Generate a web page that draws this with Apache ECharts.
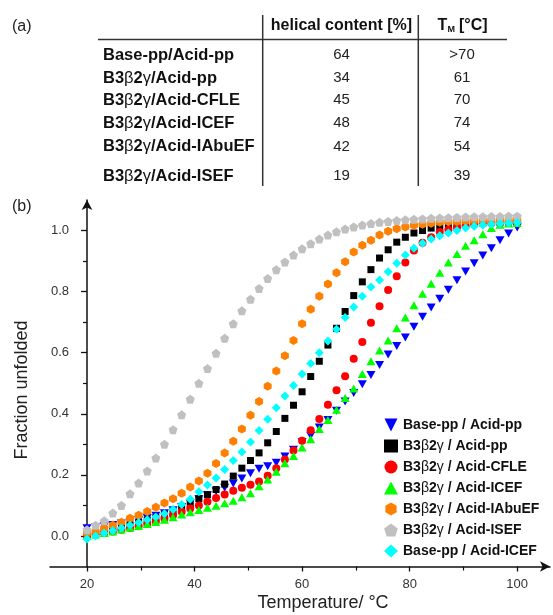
<!DOCTYPE html>
<html>
<head>
<meta charset="utf-8">
<script src="https://cdn.jsdelivr.net/npm/echarts@6/dist/echarts.min.js"></script>
<style>
html,body{margin:0;padding:0;background:#fff;}
#chart{width:553px;height:615px;}
</style>
</head>
<body>
<div id="chart"></div>
<script>
// ---------- (a) table data ----------
var tableRows = ['Base-pp/Acid-pp', 'B3β2γ/Acid-pp', 'B3β2γ/Acid-CFLE', 'B3β2γ/Acid-ICEF', 'B3β2γ/Acid-IAbuEF', 'B3β2γ/Acid-ISEF'];
var helicalContent = ['64', '34', '45', '48', '42', '19'];
var meltingTemps = ['>70', '61', '70', '74', '54', '39'];

// ---------- (b) chart data ----------
var seriesNames = ['Base-pp / Acid-pp', 'B3β2γ / Acid-pp', 'B3β2γ / Acid-CFLE', 'B3β2γ / Acid-ICEF', 'B3β2γ / Acid-IAbuEF', 'B3β2γ / Acid-ISEF', 'Base-pp / Acid-ICEF'];
var temperatures = [20, 21.6, 23.2, 24.8, 26.4, 28, 29.6, 31.2, 32.8, 34.4, 36, 37.6, 39.2, 40.8, 42.4, 44, 45.6, 47.2, 48.8, 50.4, 52, 53.6, 55.2, 56.8, 58.4, 60, 61.6, 63.2, 64.8, 66.4, 68, 69.6, 71.2, 72.8, 74.4, 76, 77.6, 79.2, 80.8, 82.4, 84, 85.6, 87.2, 88.8, 90.4, 92, 93.6, 95.2, 96.8, 98.4, 100];

var basePpAcidPp = [0.025, 0.028, 0.032, 0.036, 0.041, 0.046, 0.052, 0.059, 0.066, 0.074, 0.084, 0.095, 0.107, 0.12, 0.133, 0.146, 0.158, 0.172, 0.188, 0.205, 0.22, 0.228, 0.24, 0.26, 0.282, 0.308, 0.328, 0.355, 0.38, 0.41, 0.44, 0.468, 0.497, 0.527, 0.56, 0.594, 0.622, 0.65, 0.685, 0.718, 0.748, 0.777, 0.806, 0.837, 0.866, 0.893, 0.918, 0.942, 0.968, 0.99, 1.01];
var b3AcidPp = [0.0, 0.008, 0.015, 0.022, 0.029, 0.036, 0.044, 0.052, 0.06, 0.07, 0.08, 0.092, 0.105, 0.122, 0.135, 0.152, 0.17, 0.196, 0.222, 0.247, 0.272, 0.305, 0.342, 0.385, 0.428, 0.472, 0.522, 0.572, 0.625, 0.68, 0.735, 0.787, 0.832, 0.872, 0.91, 0.937, 0.962, 0.978, 0.992, 1.0, 1.008, 1.013, 1.017, 1.02, 1.022, 1.024, 1.025, 1.026, 1.027, 1.028, 1.028];
var b3AcidCFLE = [0.0, 0.005, 0.01, 0.015, 0.02, 0.026, 0.032, 0.039, 0.047, 0.057, 0.068, 0.079, 0.09, 0.1, 0.112, 0.124, 0.136, 0.148, 0.158, 0.168, 0.178, 0.197, 0.222, 0.25, 0.28, 0.312, 0.346, 0.383, 0.43, 0.477, 0.523, 0.58, 0.635, 0.698, 0.752, 0.805, 0.85, 0.895, 0.935, 0.96, 0.978, 0.995, 1.003, 1.01, 1.015, 1.02, 1.023, 1.025, 1.026, 1.027, 1.028];
var b3AcidICEF = [0.0, 0.005, 0.01, 0.015, 0.021, 0.027, 0.033, 0.039, 0.046, 0.053, 0.061, 0.07, 0.078, 0.085, 0.092, 0.099, 0.107, 0.115, 0.127, 0.14, 0.163, 0.185, 0.21, 0.238, 0.262, 0.29, 0.317, 0.35, 0.38, 0.413, 0.452, 0.483, 0.53, 0.572, 0.607, 0.64, 0.68, 0.715, 0.755, 0.793, 0.826, 0.862, 0.895, 0.923, 0.95, 0.968, 0.988, 1.008, 1.019, 1.023, 1.025];
var b3AcidIAbuEF = [0.01, 0.015, 0.025, 0.035, 0.045, 0.058, 0.068, 0.08, 0.094, 0.108, 0.122, 0.14, 0.16, 0.18, 0.205, 0.237, 0.272, 0.31, 0.35, 0.395, 0.44, 0.49, 0.54, 0.59, 0.64, 0.695, 0.742, 0.785, 0.825, 0.862, 0.898, 0.93, 0.952, 0.968, 0.985, 0.998, 1.006, 1.012, 1.017, 1.021, 1.024, 1.027, 1.029, 1.03, 1.031, 1.032, 1.033, 1.034, 1.034, 1.035, 1.035];
var b3AcidISEF = [0.02, 0.035, 0.05, 0.075, 0.1, 0.138, 0.173, 0.213, 0.255, 0.3, 0.348, 0.397, 0.448, 0.5, 0.548, 0.598, 0.647, 0.695, 0.737, 0.775, 0.81, 0.843, 0.872, 0.897, 0.92, 0.94, 0.957, 0.972, 0.985, 0.996, 1.005, 1.012, 1.018, 1.023, 1.027, 1.03, 1.033, 1.035, 1.037, 1.038, 1.04, 1.041, 1.042, 1.043, 1.044, 1.045, 1.045, 1.046, 1.046, 1.047, 1.047];
var basePpAcidICEF = [-0.01, 0.0, 0.01, 0.018, 0.026, 0.035, 0.044, 0.053, 0.062, 0.073, 0.087, 0.103, 0.12, 0.145, 0.167, 0.19, 0.218, 0.247, 0.275, 0.308, 0.345, 0.382, 0.42, 0.458, 0.493, 0.53, 0.565, 0.6, 0.638, 0.677, 0.715, 0.75, 0.785, 0.815, 0.838, 0.865, 0.893, 0.92, 0.942, 0.958, 0.972, 0.983, 0.992, 1.0, 1.008, 1.014, 1.018, 1.021, 1.023, 1.025, 1.026];

var yTickLabels = [0, 0.2, 0.4, 0.6, 0.8, 1.0];
var yMinorTicks = [0.1, 0.3, 0.5, 0.7, 0.9];
var xTickLabels = [20, 40, 60, 80, 100];
var xMinorTicks = [30, 50, 70, 90];

// ---------- styling ----------
var FONT = '"Liberation Sans", Arial, sans-serif';
var seriesValues = [basePpAcidPp, b3AcidPp, b3AcidCFLE, b3AcidICEF, b3AcidIAbuEF, b3AcidISEF, basePpAcidICEF];
var colors = ['#0000ff', '#000000', '#ff0000', '#00ff00', '#ff8000', '#c0c0c0', '#00ffff'];
var hexagon = 'path://M0,-1L0.866,-0.5L0.866,0.5L0,1L-0.866,0.5L-0.866,-0.5Z';
var pentagon = 'path://M0,-1L0.951,-0.309L0.588,0.809L-0.588,0.809L-0.951,-0.309Z';
var downTriangle = 'path://M-1,-1L1,-1L0,1Z';
var symbols = [downTriangle, 'rect', 'circle', 'triangle', hexagon, pentagon, 'diamond'];
var legendIcons = [downTriangle, 'rect', 'circle', 'triangle', hexagon, pentagon, 'diamond'];
var sizes = [[9, 8], 7, 8, [9, 8], [8, 9], 9, 9];

function richify(s, nKey, gKey) {
  var out = '', buf = '';
  for (var i = 0; i < s.length; i++) {
    var ch = s[i];
    if (ch === 'β' || ch === 'γ') {
      if (buf) { out += '{' + nKey + '|' + buf + '}'; buf = ''; }
      out += '{' + gKey + '|' + ch + '}';
    } else buf += ch;
  }
  if (buf) out += '{' + nKey + '|' + buf + '}';
  return out;
}

var series = seriesNames.map(function (name, k) {
  return {
    name: name,
    type: 'scatter',
    xAxisIndex: 0,
    yAxisIndex: 0,
    symbol: symbols[k],
    symbolSize: sizes[k],
    itemStyle: { color: colors[k], opacity: 1 },
    emphasis: { disabled: true },
    data: temperatures.map(function (t, i) { return [t, seriesValues[k][i]]; })
  };
});

// ---------- table graphics ----------
var tableGraphics = [];
var rowY = [55, 78, 100, 123, 146.5, 176];
tableGraphics.push({ type: 'text', x: 12, y: 27, style: { text: '(a)', font: '16px ' + FONT, fill: '#222', verticalAlign: 'middle' } });
tableGraphics.push({ type: 'text', x: 12, y: 207, style: { text: '(b)', font: '16px ' + FONT, fill: '#222', verticalAlign: 'middle' } });
tableGraphics.push({ type: 'line', shape: { x1: 262.7, y1: 15, x2: 262.7, y2: 186 }, style: { stroke: '#333', lineWidth: 1.5 } });
tableGraphics.push({ type: 'line', shape: { x1: 418.3, y1: 15, x2: 418.3, y2: 186 }, style: { stroke: '#333', lineWidth: 1.5 } });
tableGraphics.push({ type: 'line', shape: { x1: 98, y1: 39.5, x2: 507, y2: 39.5 }, style: { stroke: '#333', lineWidth: 1.5 } });
tableGraphics.push({ type: 'text', x: 341.5, y: 26, style: { text: 'helical content [%]', font: 'bold 16px ' + FONT, fill: '#111', align: 'center', verticalAlign: 'middle' } });
tableGraphics.push({ type: 'text', x: 437.5, y: 26, style: { text: 'T', font: 'bold 16px ' + FONT, fill: '#111', align: 'left', verticalAlign: 'middle' } });
tableGraphics.push({ type: 'text', x: 447.5, y: 30, style: { text: 'M', font: 'bold 9px ' + FONT, fill: '#111', align: 'left', verticalAlign: 'middle' } });
tableGraphics.push({ type: 'text', x: 459, y: 26, style: { text: '[°C]', font: 'bold 16px ' + FONT, fill: '#111', align: 'left', verticalAlign: 'middle' } });
tableRows.forEach(function (r, i) {
  tableGraphics.push({ type: 'text', x: 103, y: rowY[i], style: {
    text: richify(r, 'n', 'g'), align: 'left', verticalAlign: 'middle',
    rich: {
      n: { fontFamily: FONT, fontWeight: 'bold', fontSize: 16.5, fill: '#111' },
      g: { fontFamily: FONT, fontWeight: 'normal', fontSize: 16.5, fill: '#111' }
    }
  } });
  tableGraphics.push({ type: 'text', x: 341.5, y: rowY[i], style: { text: helicalContent[i], font: '15px ' + FONT, fill: '#222', align: 'center', verticalAlign: 'middle' } });
  tableGraphics.push({ type: 'text', x: 462, y: rowY[i], style: { text: meltingTemps[i], font: '15px ' + FONT, fill: '#222', align: 'center', verticalAlign: 'middle' } });
});
// axis titles
tableGraphics.push({ type: 'text', x: 323, y: 603, style: { text: 'Temperature/ °C', font: '18px ' + FONT, fill: '#222', align: 'center', verticalAlign: 'middle' } });
tableGraphics.push({ type: 'text', x: 22, y: 390, rotation: Math.PI / 2, style: { text: 'Fraction unfolded', font: '18px ' + FONT, fill: '#222', align: 'center', verticalAlign: 'middle' } });

var axisLineStyle = { color: '#111', width: 1.5 };

var option = {
  animation: false,
  backgroundColor: '#fff',
  grid: { left: 50, right: 3, top: 200, bottom: 48.5, containLabel: false },
  xAxis: [
    {
      type: 'value', min: 13.12, max: 106.1, position: 'bottom',
      splitLine: { show: false },
      axisLine: { show: true, onZero: false, lineStyle: axisLineStyle, symbol: ['none', 'arrow'], symbolSize: [8, 10] },
      axisTick: { show: true, customValues: xTickLabels, length: 5, lineStyle: { color: '#111', width: 1.3 } },
      axisLabel: { show: true, customValues: xTickLabels, margin: 11, fontSize: 13, fontFamily: FONT, color: '#333' }
    },
    {
      type: 'value', min: 13.12, max: 106.1, position: 'bottom',
      splitLine: { show: false },
      axisLine: { show: false, onZero: false },
      axisTick: { show: true, customValues: xMinorTicks, length: 4, lineStyle: { color: '#111', width: 1.2 } },
      axisLabel: { show: false }
    }
  ],
  yAxis: [
    {
      type: 'value', min: -0.1, max: 1.1, position: 'left', offset: -37,
      splitLine: { show: false },
      axisLine: { show: true, onZero: false, lineStyle: axisLineStyle, symbol: ['none', 'arrow'], symbolSize: [8, 10] },
      axisTick: { show: true, customValues: yTickLabels, length: 6, lineStyle: { color: '#111', width: 1.3 } },
      axisLabel: { show: true, customValues: yTickLabels, margin: 18, fontSize: 13, fontFamily: FONT, color: '#333',
        formatter: function (v) { return v.toFixed(1); } }
    },
    {
      type: 'value', min: -0.1, max: 1.1, position: 'left', offset: -37,
      splitLine: { show: false },
      axisLine: { show: false, onZero: false },
      axisTick: { show: true, customValues: yMinorTicks, length: 4, lineStyle: { color: '#111', width: 1.2 } },
      axisLabel: { show: false }
    }
  ],
  legend: {
    orient: 'vertical', left: 379, top: 413,
    itemWidth: 14, itemHeight: 13, itemGap: 7,
    data: seriesNames.map(function (n, k) { return { name: n, icon: legendIcons[k] }; }),
    selectedMode: false,
    formatter: function (name) { return richify(name, 'n', 'g'); },
    textStyle: {
      rich: {
        n: { fontFamily: FONT, fontWeight: 'bold', fontSize: 14, color: '#111' },
        g: { fontFamily: FONT, fontWeight: 'normal', fontSize: 14, color: '#111' }
      }
    }
  },
  graphic: tableGraphics,
  series: series
};

var chart = echarts.init(document.getElementById('chart'), null, { renderer: 'canvas' });
chart.setOption(option);
</script>
</body>
</html>
